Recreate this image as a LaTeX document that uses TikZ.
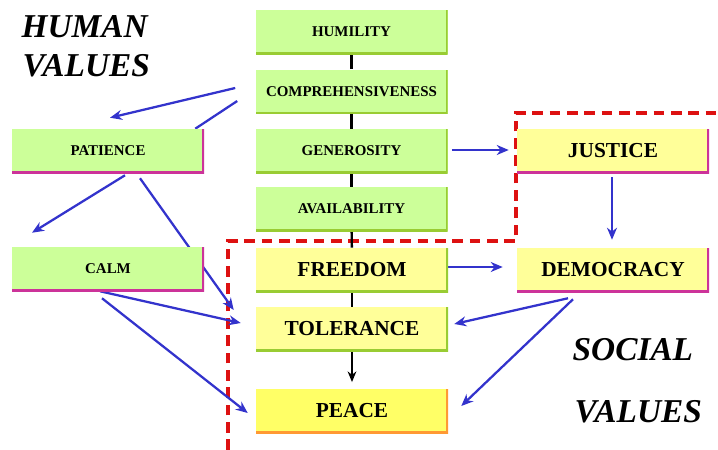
\documentclass[tikz,border=0pt]{standalone}
\usepackage{fontspec}
\setmainfont{Liberation Serif}
\usetikzlibrary{arrows.meta,calc,backgrounds}

\definecolor{boxgreen}{RGB}{204,255,153}
\definecolor{boxyellow}{RGB}{255,255,153}
\definecolor{peaceyellow}{RGB}{255,255,102}
\definecolor{rimgreen}{RGB}{153,204,51}
\definecolor{rimpink}{RGB}{204,51,153}
\definecolor{rimorange}{RGB}{255,153,51}
\definecolor{arrowblue}{RGB}{51,51,204}
\definecolor{dashred}{RGB}{221,17,17}

\tikzset{
  valbox/.style 2 args={fill=#1, minimum width=144pt, minimum height=33pt, inner sep=0pt,
    font=\fontsize{11.2}{13}\selectfont\bfseries,
    path picture={\draw[#2,line width=2.6pt] (path picture bounding box.north east) -- (path picture bounding box.south east) -- (path picture bounding box.south west);}},
  bigtext/.style={font=\fontsize{16}{19}\selectfont\bfseries},
  bluearrow/.style={draw=arrowblue, line width=1.7pt, -{Stealth[length=9pt,width=7.5pt]}},
  blueline/.style={draw=arrowblue, line width=1.7pt},
  blackline/.style={line width=1.8pt},
  title/.style={anchor=base west, font=\fontsize{25}{30}\selectfont\bfseries\itshape},
}

\begin{document}
\begin{tikzpicture}[x=0.75pt,y=0.75pt,yscale=-1,xscale=1]
\useasboundingbox (0,0) rectangle (718,450);

%Human values, middle column
\node[valbox={boxgreen}{rimgreen}] (humility) at (351.5,32) {HUMILITY};
\node[valbox={boxgreen}{rimgreen}] (comp) at (351.5,91.5) {COMPREHENSIVENESS};
\node[valbox={boxgreen}{rimgreen}] (generosity) at (351.5,151) {GENEROSITY};
\node[valbox={boxgreen}{rimgreen}] (availability) at (351.5,209) {AVAILABILITY};
%Human values, left column
\node[valbox={boxgreen}{rimpink}] (patience) at (108,151) {PATIENCE};
\node[valbox={boxgreen}{rimpink}] (calm) at (108,269) {CALM};
%Social values
\node[valbox={boxyellow}{rimgreen}, bigtext] (freedom) at (352,270) {FREEDOM};
\node[valbox={boxyellow}{rimgreen}, bigtext] (tolerance) at (352,329) {TOLERANCE};
\node[valbox={peaceyellow}{rimorange}, bigtext] (peace) at (352,411) {PEACE};
\node[valbox={boxyellow}{rimpink}, bigtext] (justice) at (613,151) {JUSTICE};
\node[valbox={boxyellow}{rimpink}, bigtext] (democracy) at (613,270) {DEMOCRACY};

% Text Node
\node[title] (human) at (17,37) {HUMAN};
% Text Node
\node[title] (humanvalues) at (18,76) {VALUES};
% Text Node
\node[title] (social) at (568,360) {SOCIAL};
% Text Node
\node[title] (socialvalues) at (570,422) {VALUES};

\begin{scope}[on background layer]
%Dashed border of the social values
\draw[dashred, line width=2.4pt, dash pattern=on 8pt off 5pt] (228,450) -- (228,241) -- (516,241) -- (516,113) -- (718,113);

%Black chain
\draw[blackline] (humility) -- (comp);
\draw[blackline] (comp) -- (generosity);
\draw[blackline] (generosity) -- (availability);
\draw[blackline] (availability) -- (freedom);
\draw[blackline] (freedom) -- (tolerance);
\draw[blackline, -{Stealth[length=8pt,width=6.5pt]}, shorten >=5pt] (tolerance) -- (peace);

%Blue arrows
\draw[bluearrow] ($(comp.west)+(-20,-3.5)$) -- ($(patience.north)+(2,-11)$);
\draw[blueline] ($(comp.west)+(-18,9.5)$) -- ($(patience.north east)+(-9,0)$);
\draw[bluearrow] ($(patience.south)+(17,2)$) -- ($(calm.north)+(-76,-14)$);
\draw[bluearrow] ($(patience.south)+(32,5)$) -- ($(tolerance.west)+(-22,-19)$);
\draw[bluearrow] ($(calm.south)+(-8,0)$) -- ($(tolerance.west)+(-15,-6)$);
\draw[bluearrow] ($(calm.south)+(-6,7)$) -- ($(peace.west)+(-8,2)$);
\draw[bluearrow] ($(generosity.east)+(4,-1)$) -- ($(justice.west)+(-8,-1)$);
\draw[bluearrow] ($(justice.south)+(-1,4)$) -- ($(democracy.north)+(-1,-8)$);
\draw[bluearrow] ($(freedom.east)+(-1,-3)$) -- ($(democracy.west)+(-14,-3)$);
\draw[bluearrow] ($(democracy.south)+(-45,6)$) -- ($(tolerance.east)+(6,-5)$);
\draw[bluearrow] ($(democracy.south)+(-40,7)$) -- ($(peace.east)+(13,-5)$);
\end{scope}

\end{tikzpicture}
\end{document}
